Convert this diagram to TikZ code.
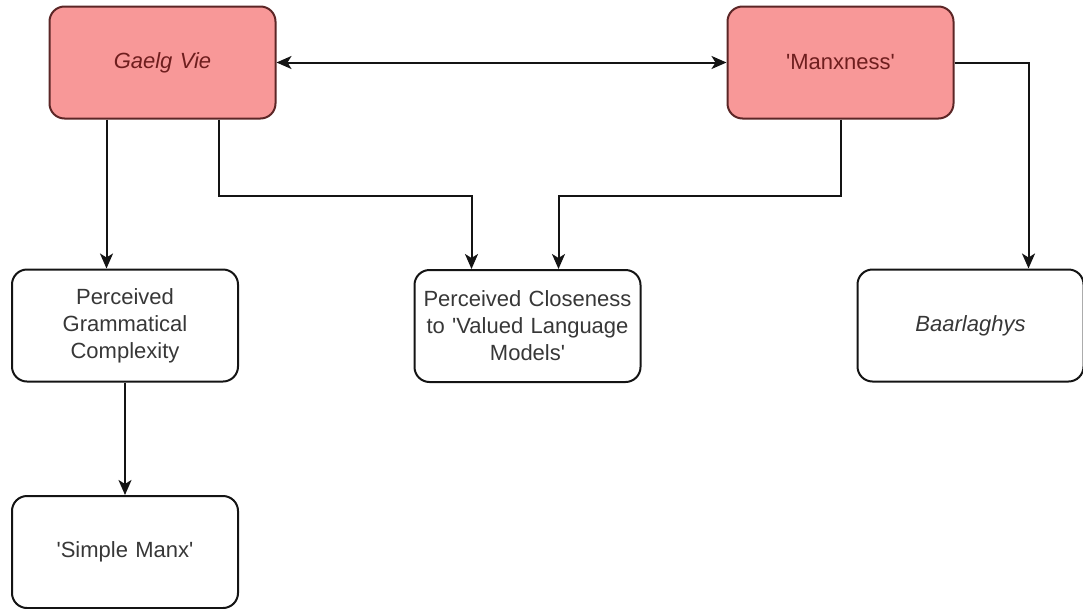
\documentclass[tikz,border=0pt]{standalone}
\usepackage{fontspec}
\setmainfont{Liberation Sans}
\usepackage{tikz}
\usetikzlibrary{arrows.meta}
\definecolor{keyfill}{RGB}{248,152,152}
\definecolor{keyline}{RGB}{92,38,38}
\definecolor{keytext}{RGB}{110,30,30}
\definecolor{ink}{RGB}{20,20,20}
\definecolor{inktext}{RGB}{55,55,55}
\newcommand{\q}{\textquotesingle}
\tikzset{
  card/.style={draw=ink,line width=2pt,rounded corners=15pt,
    minimum width=226pt,minimum height=112pt,align=center,text width=210pt,
    font=\fontsize{22}{27}\selectfont,text=inktext},
  keycard/.style={card,fill=keyfill,draw=keyline,text=keytext},
  link/.style={draw=ink,line width=2pt,-{Stealth[length=15pt,width=13pt,inset=4pt]}}
}
\begin{document}
\begin{tikzpicture}[x=1pt,y=-1pt]
  \useasboundingbox (0,0) rectangle (1083,608);
  % top row
  \node[keycard] (gaelg) at (162.5,62.5) {\itshape Gaelg Vie};
  \node[keycard] (manx) at (840.5,62.5) {\q Manxness\q};
  % middle row
  \node[card] (gram) at (125,325.5) {Perceived\\Grammatical\\Complexity};
  \node[card] (close) at (527.5,326) {Perceived Closeness\\to \q Valued Language\\Models\q};
  \node[card] (baar) at (970.5,325.5) {\itshape Baarlaghys};
  % bottom row
  \node[card] (simple) at (125,552) {\q Simple Manx\q};
  % connectors
  \draw[link,{Stealth[length=15pt,width=13pt,inset=4pt]}-{Stealth[length=15pt,width=13pt,inset=4pt]}]
    (gaelg.east) -- (manx.west);
  \draw[link] ([xshift=-56pt]gaelg.south) -- ([xshift=-56pt]gaelg.south |- gram.north);
  \draw[link] ([xshift=56pt]gaelg.south) -- ++(0,76) -| ([xshift=-56pt]close.north);
  \draw[link] (manx.south) -- ++(0,76) -| ([xshift=31pt]close.north);
  \draw[link] (manx.east) -| ([xshift=58pt]baar.north);
  \draw[link] (gram.south) -- (simple.north);
\end{tikzpicture}
\end{document}
